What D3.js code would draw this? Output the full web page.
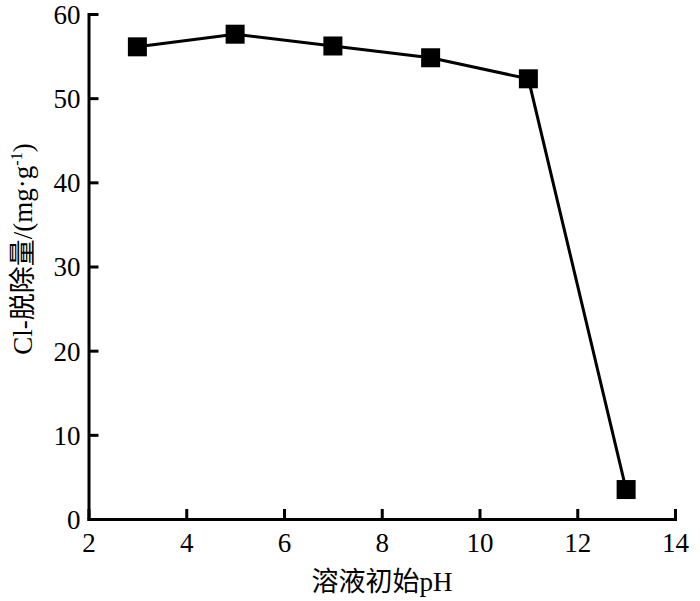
<!DOCTYPE html>
<html><head><meta charset="utf-8">
<script src="https://cdn.jsdelivr.net/npm/d3@7/dist/d3.min.js"></script>
<style>
html,body{margin:0;padding:0;background:#fff;}
svg text{font-family:'Liberation Serif','Noto Sans CJK SC',serif;fill:#000;}
</style></head>
<body><svg id="c" width="700" height="601"></svg>
<script>
const phValues = [3, 5, 7, 9, 11, 13];
const removal = [56.1, 57.6, 56.2, 54.8, 52.3, 3.5];
const xTicks = [2, 4, 6, 8, 10, 12, 14];
const yTicks = [0, 10, 20, 30, 40, 50, 60];
const xTitle = "溶液初始pH";

const svg = d3.select("#c");
const x = d3.scaleLinear().domain([2, 14]).range([88.5, 675]);
const y = d3.scaleLinear().domain([0, 60]).range([519, 14]);

const xAxis = d3.axisBottom(x).tickValues(xTicks).tickSize(-10).tickPadding(14).tickSizeOuter(0).tickFormat(d3.format("d"));
const yAxis = d3.axisLeft(y).tickValues(yTicks).tickSize(-10).tickPadding(8).tickSizeOuter(0).tickFormat(d3.format("d"));

const gx = svg.append("g").attr("transform", `translate(0,${y(0)})`).call(xAxis);
const gy = svg.append("g").attr("transform", `translate(${x(2)},0)`).call(yAxis);
[gx, gy].forEach(g => {
  g.attr("font-family", null).attr("font-size", null);
  g.select(".domain").attr("stroke", "#000").attr("stroke-width", 3).attr("stroke-linecap", "square");
  g.selectAll(".tick line").attr("stroke", "#000").attr("stroke-width", 3);
  g.selectAll(".tick text").attr("font-family", "Liberation Serif").attr("font-size", 27).attr("fill", "#000");
});
gx.selectAll(".tick text").attr("dy", "0.71em");
gy.selectAll(".tick text").attr("dy", "0.35em");

const line = d3.line().x((d, i) => x(phValues[i])).y(d => y(d));
svg.append("path").datum(removal).attr("d", line)
  .attr("fill", "none").attr("stroke", "#000").attr("stroke-width", 3);

const s = 19;
svg.selectAll("rect.pt").data(removal).enter().append("rect")
  .attr("class", "pt")
  .attr("x", (d, i) => x(phValues[i]) - s / 2)
  .attr("y", d => y(d) - s / 2)
  .attr("width", s).attr("height", s).attr("fill", "#000");

svg.append("text").attr("x", 382).attr("y", 591).attr("text-anchor", "middle")
  .attr("font-size", 27).text(xTitle);

const yt = svg.append("text").attr("transform", "translate(32,249) rotate(-90)")
  .attr("text-anchor", "middle").attr("font-size", 27);
yt.append("tspan").text("Cl-脱除量/(mg·g");
yt.append("tspan").attr("dy", "-10").attr("font-size", 16).text("-1");
yt.append("tspan").attr("dy", "10").text(")");
</script></body></html>
